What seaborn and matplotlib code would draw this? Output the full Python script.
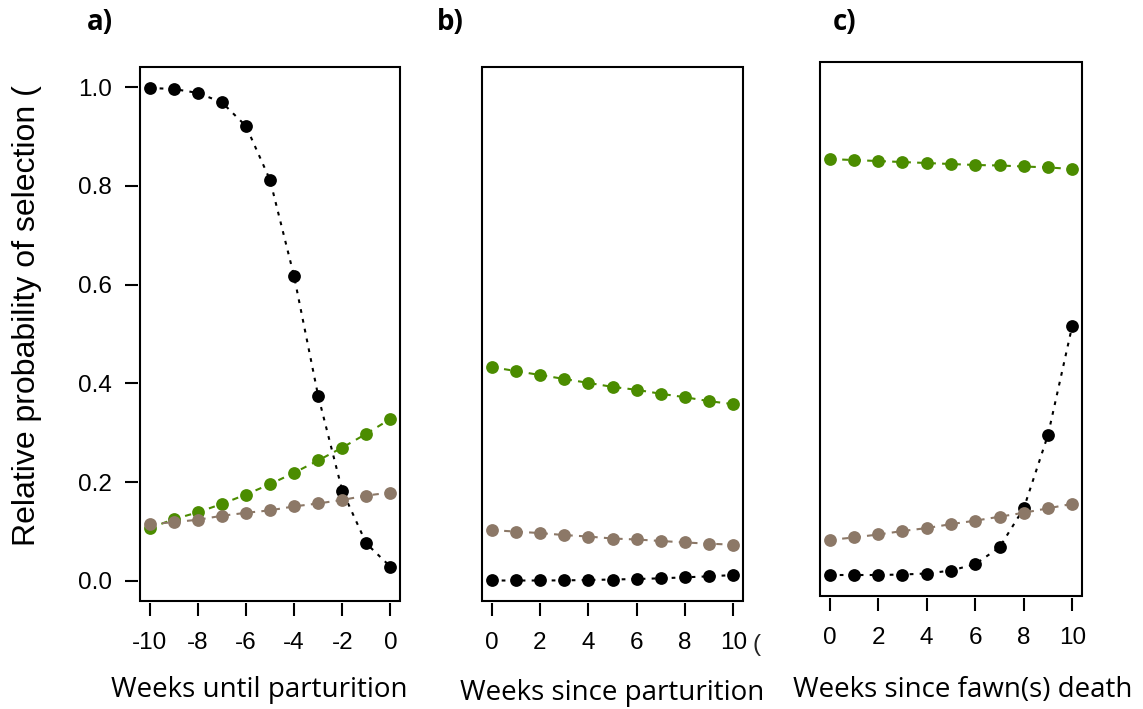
import matplotlib
matplotlib.use("Agg")
import matplotlib.pyplot as plt
from matplotlib.patches import Rectangle
import seaborn as sns
import pandas as pd

# ---------------- data ----------------
weeks_a = [-10, -9, -8, -7, -6, -5, -4, -3, -2, -1, 0]
weeks_b = [0, 1, 2, 3, 4, 5, 6, 7, 8, 9, 10]
weeks_c = [0, 1, 2, 3, 4, 5, 6, 7, 8, 9, 10]

black_a = [0.998, 0.996, 0.988, 0.969, 0.921, 0.812, 0.617, 0.375, 0.183, 0.076, 0.029]
green_a = [0.107, 0.125, 0.139, 0.156, 0.175, 0.196, 0.219, 0.244, 0.270, 0.298, 0.328]
brown_a = [0.115, 0.119, 0.124, 0.132, 0.138, 0.143, 0.151, 0.157, 0.164, 0.173, 0.179]

black_b = [0.001, 0.001, 0.001, 0.0013, 0.002, 0.003, 0.004, 0.0054, 0.0074, 0.0095, 0.012]
green_b = [0.433, 0.425, 0.417, 0.409, 0.401, 0.393, 0.387, 0.379, 0.372, 0.364, 0.358]
brown_b = [0.103, 0.100, 0.097, 0.093, 0.090, 0.086, 0.084, 0.081, 0.078, 0.0755, 0.0735]

black_c = [0.002, 0.002, 0.002, 0.003, 0.005, 0.011, 0.024, 0.058, 0.137, 0.286, 0.507]
green_c = [0.844, 0.842, 0.840, 0.838, 0.836, 0.834, 0.832, 0.831, 0.829, 0.827, 0.824]
brown_c = [0.073, 0.078, 0.084, 0.091, 0.097, 0.105, 0.112, 0.120, 0.128, 0.137, 0.146]

series_names = ["black", "green", "brown"]
xticks_a = [-10, -8, -6, -4, -2, 0]
xticks_bc = [0, 2, 4, 6, 8, 10]
yticks = [0.0, 0.2, 0.4, 0.6, 0.8, 1.0]
ytick_labels = ["0.0", "0.2", "0.4", "0.6", "0.8", "1.0"]
panel_letters = ["a)", "b)", "c)"]
xlabels = ["Weeks until parturition", "Weeks since parturition", "Weeks since fawn(s) death"]
ylabel = "Relative probability of selection ("

# ---------------- style ----------------
sns.set_style("white")
plt.rcParams["font.family"] = ["Liberation Sans", "DejaVu Sans"]
plt.rcParams["text.color"] = "black"
plt.rcParams["xtick.color"] = "black"
plt.rcParams["ytick.color"] = "black"
plt.rcParams["xtick.labelcolor"] = "black"
plt.rcParams["ytick.labelcolor"] = "black"

palette = {"black": "#000000", "green": "#4b8c00", "brown": "#8c7867"}
dashes = {"black": (1.8, 3.0), "green": (3.0, 3.0), "brown": (3.0, 3.0)}
markers = {"black": "o", "green": "o", "brown": "o"}

W, H = 1143, 709
fig = plt.figure(figsize=(W / 100, H / 100), dpi=100)

# panel boxes in pixel coords (left, top, right, bottom)
boxes = [(140, 67, 400, 601), (482, 67, 743, 601), (820, 62, 1082, 596)]

def make_df(x, b, g, br):
    rows = []
    for name, vals in zip(series_names, [b, g, br]):
        for xi, v in zip(x, vals):
            rows.append({"week": xi, "prob": v, "series": name})
    return pd.DataFrame(rows)

data = [
    (weeks_a, black_a, green_a, brown_a, xticks_a),
    (weeks_b, black_b, green_b, brown_b, xticks_bc),
    (weeks_c, black_c, green_c, brown_c, xticks_bc),
]

axes = []
for i, ((x, b, g, br, xt), (l, t, r, bt)) in enumerate(zip(data, boxes)):
    ax = fig.add_axes([l / W, (H - bt) / H, (r - l) / W, (bt - t) / H])
    df = make_df(x, b, g, br)
    sns.lineplot(data=df, x="week", y="prob", hue="series", style="series",
                 hue_order=series_names, style_order=series_names,
                 palette=palette, dashes=dashes, markers=markers,
                 markersize=9.2, markeredgewidth=0, linewidth=1.5,
                 legend=False, ax=ax)
    xmin, xmax = min(x), max(x)
    ext = 0.04 * (xmax - xmin)
    ax.set_xlim(xmin - ext, xmax + ext)
    ax.set_ylim(-0.0405, 1.0405)
    ax.set_xlabel("")
    ax.set_ylabel("")
    ax.set_xticks(xt)
    ax.set_xticklabels([str(v) for v in xt])
    for s in ax.spines.values():
        s.set_visible(False)
    ax.spines["bottom"].set_position(("outward", 1.5))
    ax.spines["left"].set_position(("outward", 1.5))
    ax.add_patch(Rectangle((0, 0), 1, 1, transform=ax.transAxes, fill=False,
                           edgecolor="black", linewidth=1.5, clip_on=False, zorder=5))
    ax.tick_params(axis="both", direction="out", length=9.5, width=1.5,
                   color="black", labelcolor="black", labelsize=17.5,
                   bottom=True, left=(i == 0), top=False, right=False)
    ax.tick_params(axis="x", pad=11)
    ax.tick_params(axis="y", pad=9)
    if i == 0:
        ax.set_yticks(yticks)
        ax.set_yticklabels(ytick_labels)
    else:
        ax.set_yticks([])
    axes.append(ax)

# stray "(" after the last tick label of panel b
fig.text(757 / W, (H - 645) / H, "(", fontsize=17.5, ha="center", va="center",
         color="#222222")

# axis labels
label_pos = [(259.5, 697), (612.5, 700), (963, 697)]
for txt, (cx, by) in zip(xlabels, label_pos):
    fig.text(cx / W, (H - by) / H, txt, fontsize=20, ha="center", va="baseline",
             family=["Open Sans", "DejaVu Sans"], color="black")

fig.text(27 / W, (H - 316) / H, ylabel, rotation=90, fontsize=23,
         ha="center", va="center", color="black")

# panel letters
letter_pos = [(100, 22), (450, 22), (845, 22)]
for txt, (cx, cy) in zip(panel_letters, letter_pos):
    fig.text(cx / W, (H - cy) / H, txt, fontsize=20, fontweight="bold",
             ha="center", va="center", family=["Open Sans", "DejaVu Sans"],
             color="black")

fig.savefig("out.png", dpi=100)
